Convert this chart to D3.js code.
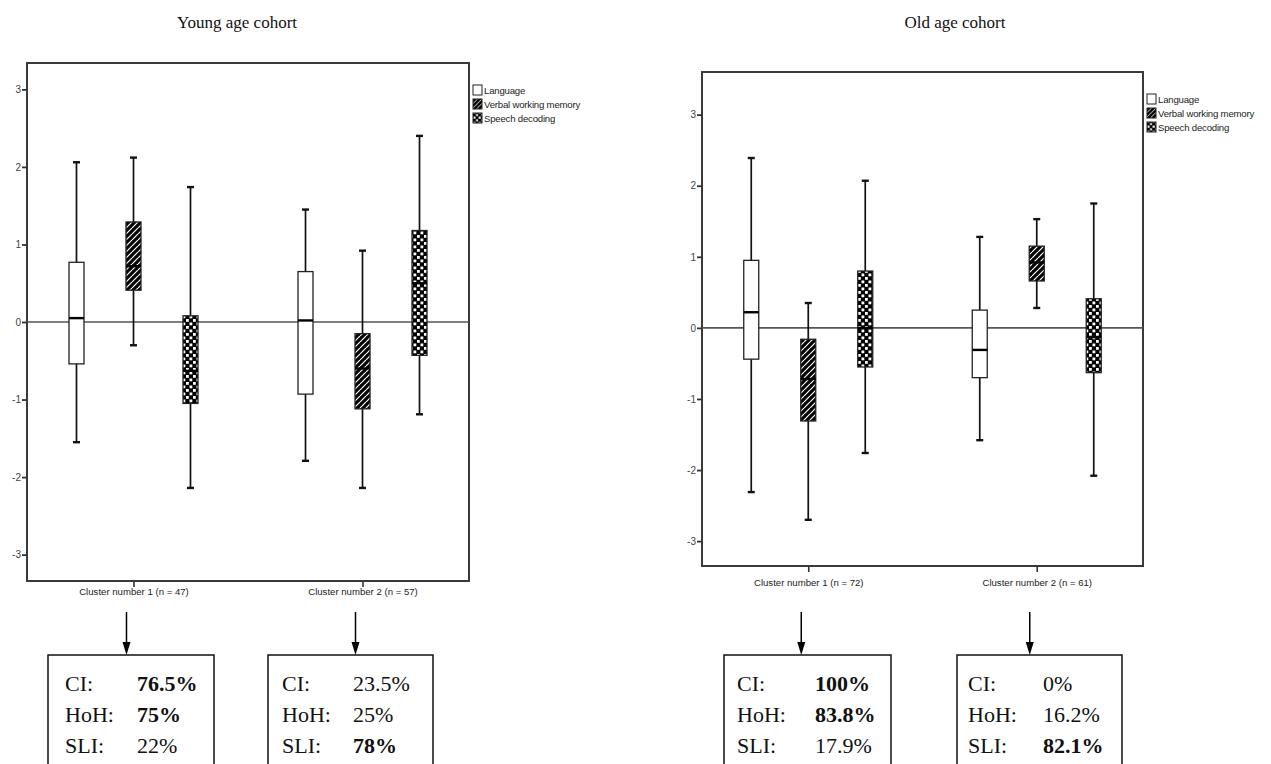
<!DOCTYPE html>
<html><head><meta charset="utf-8">
<script src="https://cdn.jsdelivr.net/npm/d3@7"></script>
<style>body{margin:0;background:#fff}svg{display:block}</style>
</head><body>
<svg id="c" width="1271" height="764"></svg>
<script>
// ---------- DATA ----------
const measures = ["Language", "Verbal working memory", "Speech decoding"];
const yTicks = [-3, -2, -1, 0, 1, 2, 3];
const youngTitle = "Young age cohort";
const oldTitle = "Old age cohort";
const youngClusters = ["Cluster number 1 (n = 47)", "Cluster number 2 (n = 57)"];
const oldClusters = ["Cluster number 1 (n = 72)", "Cluster number 2 (n = 61)"];
// box stats per cluster: [min, q1, median, q3, max]
const youngLanguage = [[-1.55, -0.54, 0.05, 0.77, 2.06], [-1.79, -0.93, 0.02, 0.65, 1.45]];
const youngVWM      = [[-0.30, 0.41, 0.72, 1.29, 2.12], [-2.14, -1.12, -0.60, -0.15, 0.92]];
const youngSpeech   = [[-2.14, -1.05, -0.63, 0.08, 1.74], [-1.19, -0.43, 0.50, 1.18, 2.40]];
const oldLanguage   = [[-2.31, -0.44, 0.22, 0.95, 2.39], [-1.58, -0.70, -0.31, 0.25, 1.28]];
const oldVWM        = [[-2.70, -1.31, -0.72, -0.16, 0.35], [0.28, 0.66, 0.92, 1.15, 1.53]];
const oldSpeech     = [[-1.76, -0.55, 0.00, 0.80, 2.07], [-2.08, -0.63, -0.13, 0.41, 1.75]];
// summary boxes: [label, value, bold]
const youngSummary = [
  [["CI:", "76.5%", true], ["HoH:", "75%", true], ["SLI:", "22%", false]],
  [["CI:", "23.5%", false], ["HoH:", "25%", false], ["SLI:", "78%", true]]
];
const oldSummary = [
  [["CI:", "100%", true], ["HoH:", "83.8%", true], ["SLI:", "17.9%", false]],
  [["CI:", "0%", false], ["HoH:", "16.2%", false], ["SLI:", "82.1%", true]]
];

// ---------- DRAW ----------
const svg = d3.select("#c");
const defs = svg.append("defs");

function makePatterns(id, s) {
  const h = defs.append("pattern").attr("id", "hatch" + id).attr("patternUnits", "userSpaceOnUse")
    .attr("width", 6 * s).attr("height", 6 * s);
  h.append("rect").attr("width", 6 * s).attr("height", 6 * s).attr("fill", "#000");
  [-1, 0, 1].forEach(a => {
    h.append("line").attr("x1", (a * 6) * s).attr("y1", 6 * s).attr("x2", (a * 6 + 6) * s).attr("y2", 0)
      .attr("stroke", "#fff").attr("stroke-width", 1.2 * s);
  });
  const c = defs.append("pattern").attr("id", "check" + id).attr("patternUnits", "userSpaceOnUse")
    .attr("width", 7 * s).attr("height", 7 * s);
  c.append("rect").attr("width", 7 * s).attr("height", 7 * s).attr("fill", "#000");
  c.append("rect").attr("x", 0.5 * s).attr("y", 0.5 * s).attr("width", 2.8 * s).attr("height", 2.8 * s).attr("fill", "#fff");
  c.append("rect").attr("x", 4 * s).attr("y", 4 * s).attr("width", 2.8 * s).attr("height", 2.8 * s).attr("fill", "#fff");
}
makePatterns("", 1);
makePatterns("L", 0.75);
const fills = ["#fff", "url(#hatch)", "url(#check)"];
const legendFills = ["#fff", "url(#hatchL)", "url(#checkL)"];

function panel(cfg) {
  const g = svg.append("g");
  const x = d3.scalePoint().domain(cfg.clusters).range([cfg.x0, cfg.x1]).padding(0.465);
  const sub = d3.scalePoint().domain(measures).range([-57, 57]);
  const y = d3.scaleLinear().domain(cfg.yDomain).range([cfg.y1, cfg.y0]);

  // title
  g.append("text").attr("x", cfg.titleX).attr("y", 28).attr("text-anchor", "middle")
    .attr("font-family", "Liberation Serif, Times New Roman, serif").attr("font-size", 17).attr("fill", "#111")
    .text(cfg.title);

  // frame
  g.append("rect").attr("x", cfg.x0).attr("y", y(cfg.yDomain[1])).attr("width", cfg.x1 - cfg.x0)
    .attr("height", y(cfg.yDomain[0]) - y(cfg.yDomain[1])).attr("fill", "none")
    .attr("stroke", "#3a3a3a").attr("stroke-width", 2);

  // y axis
  const ya = g.append("g").attr("transform", `translate(${cfg.x0},0)`)
    .call(d3.axisLeft(y).tickValues(yTicks).tickSize(5).tickSizeOuter(0).tickFormat(d => String(d)));
  ya.select(".domain").remove();
  ya.selectAll("line").attr("stroke", "#333").attr("stroke-width", 1.8);
  ya.selectAll("text").attr("font-family", "Liberation Sans, Arial, sans-serif").attr("font-size", 10)
    .attr("fill", "#444").attr("x", -6);

  // x axis
  const xa = g.append("g").attr("transform", `translate(0,${cfg.y1})`)
    .call(d3.axisBottom(x).tickSize(6).tickSizeOuter(0));
  xa.select(".domain").remove();
  xa.selectAll("line").attr("stroke", "#333").attr("stroke-width", 1.6);
  xa.selectAll("text").attr("font-family", "Liberation Sans, Arial, sans-serif").attr("font-size", 9.6)
    .attr("fill", "#222").attr("y", cfg.labelDy).attr("dy", 0);

  // zero line
  g.append("line").attr("x1", cfg.x0).attr("x2", cfg.x1).attr("y1", y(0)).attr("y2", y(0))
    .attr("stroke", "#555").attr("stroke-width", 1.6);

  // boxes
  const bw = 15;
  cfg.series.forEach((ser, mi) => {
    ser.forEach((s, ci) => {
      const cx = x(cfg.clusters[ci]) + sub(measures[mi]);
      const [mn, q1, md, q3, mx] = s;
      const bg = g.append("g");
      bg.append("line").attr("x1", cx).attr("x2", cx).attr("y1", y(mx)).attr("y2", y(mn))
        .attr("stroke", "#111").attr("stroke-width", 1.7);
      [mn, mx].forEach(v => bg.append("line").attr("x1", cx - 3.5).attr("x2", cx + 3.5)
        .attr("y1", y(v)).attr("y2", y(v)).attr("stroke", "#111").attr("stroke-width", 2.4));
      bg.append("rect").attr("x", cx - bw / 2).attr("y", y(q3)).attr("width", bw).attr("height", y(q1) - y(q3))
        .attr("fill", fills[mi]).attr("stroke", "#222").attr("stroke-width", 1.3);
      bg.append("line").attr("x1", cx - bw / 2).attr("x2", cx + bw / 2).attr("y1", y(md)).attr("y2", y(md))
        .attr("stroke", "#000").attr("stroke-width", 2.4);
    });
  });

  // legend
  const lg = g.append("g").attr("transform", `translate(${cfg.x1 + 4},${cfg.legendY})`);
  measures.forEach((m, i) => {
    lg.append("rect").attr("x", 0).attr("y", i * 14 - 5).attr("width", 9).attr("height", 10)
      .attr("fill", legendFills[i]).attr("stroke", "#222").attr("stroke-width", 1);
    lg.append("text").attr("x", 11).attr("y", i * 14 + 4).attr("font-family", "Liberation Sans, Arial, sans-serif")
      .attr("font-size", 9.6).attr("fill", "#222").attr("letter-spacing", -0.2).text(m);
  });

  // arrows + summary boxes
  cfg.summary.forEach((rows, ci) => {
    const ax = x(cfg.clusters[ci]) - 7;
    g.append("line").attr("x1", ax).attr("x2", ax).attr("y1", 612).attr("y2", 646)
      .attr("stroke", "#000").attr("stroke-width", 1.5);
    g.append("path").attr("d", `M${ax - 4},642 L${ax + 4},642 L${ax},655 Z`).attr("fill", "#000");
    const bx = cfg.boxLeft[ci];
    g.append("rect").attr("x", bx).attr("y", 655).attr("width", cfg.boxW[ci]).attr("height", 130)
      .attr("fill", "#fff").attr("stroke", "#111").attr("stroke-width", 1.5);
    rows.forEach((r, ri) => {
      const by = 691 + ri * 31;
      g.append("text").attr("x", bx + cfg.labelOff[ci]).attr("y", by)
        .attr("font-family", "Liberation Serif, Times New Roman, serif").attr("font-size", 22).attr("fill", "#111")
        .text(r[0]);
      g.append("text").attr("x", bx + cfg.valueOff[ci]).attr("y", by)
        .attr("font-family", "Liberation Serif, Times New Roman, serif").attr("font-size", 22).attr("fill", "#111")
        .attr("font-weight", r[2] ? "bold" : "normal").text(r[1]);
    });
  });
}

panel({
  title: youngTitle, titleX: 237, clusters: youngClusters,
  series: [youngLanguage, youngVWM, youngSpeech],
  x0: 27, x1: 469, y0: 63, y1: 581, yDomain: [-3.34, 3.34],
  labelDy: 14, legendY: 90, summary: youngSummary,
  boxLeft: [48, 268], boxW: [166, 165], labelOff: [17, 14], valueOff: [89, 85]
});
panel({
  title: oldTitle, titleX: 955, clusters: oldClusters,
  series: [oldLanguage, oldVWM, oldSpeech],
  x0: 702, x1: 1143, y0: 72, y1: 566, yDomain: [-3.35, 3.6],
  labelDy: 20, legendY: 99, summary: oldSummary,
  boxLeft: [724, 957], boxW: [167, 165], labelOff: [13, 11], valueOff: [91, 86]
});
</script>
</body></html>
